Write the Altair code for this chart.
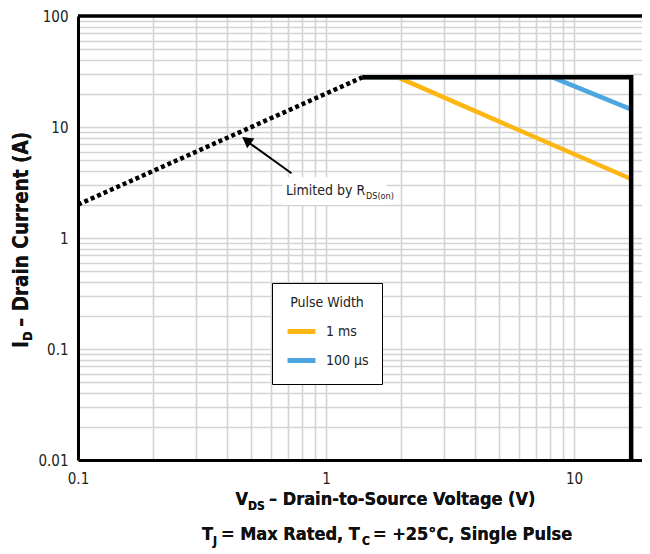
import altair as alt
import pandas as pd

# ---- data ----
rds_v = [0.1, 1.4]
rds_i = [2.0, 28.0]
limit_v = [1.4, 17.0, 17.0]
limit_i = [28.0, 28.0, 0.01]
ms1_v = [1.4, 1.95, 17.0]
ms1_i = [28.0, 28.0, 3.4]
us100_v = [1.4, 8.2, 17.0]
us100_i = [28.0, 28.0, 14.4]
series_names = ["1 ms", "100 µs"]
series_colors = ["#FDB714", "#4DA6DF"]

x_grid = [0.1, 0.2, 0.3, 0.4, 0.5, 0.6, 0.7, 0.8, 0.9,
          1, 2, 3, 4, 5, 6, 7, 8, 9, 10]
y_grid = [0.01, 0.02, 0.03, 0.04, 0.05, 0.06, 0.07, 0.08, 0.09,
          0.1, 0.2, 0.3, 0.4, 0.5, 0.6, 0.7, 0.8, 0.9,
          1, 2, 3, 4, 5, 6, 7, 8, 9,
          10, 20, 30, 40, 50, 60, 70, 80, 90, 100]

FONT = "'DejaVu Sans Condensed', Roboto, sans-serif"
NB = "\u00a0"
W, H = 564, 444

pulse = pd.DataFrame(
    [{"v": v, "i": i, "pw": "1 ms", "o": k} for k, (v, i) in enumerate(zip(ms1_v, ms1_i))]
    + [{"v": v, "i": i, "pw": "100 µs", "o": k} for k, (v, i) in enumerate(zip(us100_v, us100_i))]
)
rds = pd.DataFrame({"v": rds_v, "i": rds_i})
limit = pd.DataFrame({"v": limit_v, "i": limit_i, "o": list(range(len(limit_v)))})

lab_expr = "abs(log(datum.value)/LN10 - round(log(datum.value)/LN10)) < 0.001 ? datum.label : ''"
xs = alt.Scale(type="log", domain=[0.1, 18.8], nice=False)
ys = alt.Scale(type="log", domain=[0.01, 100], nice=False)
xax = alt.Axis(values=x_grid, format="~g", labelExpr=lab_expr, title=None, grid=True,
               ticks=False, labelOverlap=False, labelPadding=11, labelFontSize=15,
               labelFont=FONT, labelColor="#222", domainColor="black", domainWidth=3,
               gridColor="#d3d3d3", gridWidth=1.6, labelFlush=False)
yax = alt.Axis(values=y_grid, format="~g", labelExpr=lab_expr, title=None, grid=True,
               ticks=False, labelOverlap=False, labelPadding=10, labelFontSize=15,
               labelFont=FONT, labelColor="#222", domainColor="black", domainWidth=3,
               gridColor="#d3d3d3", gridWidth=1.6, labelFlush=False)
X = alt.X("v:Q", scale=xs, axis=xax)
Y = alt.Y("i:Q", scale=ys, axis=yax)

legend = alt.Legend(title="Pulse Width", orient="none", legendX=194, legendY=267,
                    fillColor="white", strokeColor="black", padding=13,
                    titleAnchor="middle", titleFont=FONT, titleFontWeight="normal",
                    titleFontSize=14, titleColor="#222", titlePadding=5,
                    labelFont=FONT, labelFontSize=14, labelColor="#222", labelOffset=8,
                    symbolType="stroke", symbolStrokeWidth=5, symbolSize=780,
                    rowPadding=2)

pulse_lines = alt.Chart(pulse).mark_line(strokeWidth=4.5).encode(
    x=X, y=Y, order="o:Q",
    color=alt.Color("pw:N", scale=alt.Scale(domain=series_names, range=series_colors),
                    legend=legend),
)
limit_line = alt.Chart(limit).mark_line(strokeWidth=4.5, color="black").encode(
    x=X, y=Y, order="o:Q")
rds_line = alt.Chart(rds).mark_line(strokeWidth=4.5, color="black",
                                    strokeDash=[4, 3]).encode(x=X, y=Y)

top_rule = alt.Chart(rds).mark_rule(color="black", strokeWidth=3).encode(
    x=alt.value(0), x2=alt.value(W), y=alt.value(0))

# annotation "Limited by R_DS(on)"
box_v = [0.668]; box_v2 = [1.75]; box_i = [3.52]; box_i2 = [1.98]
ann_box = alt.Chart(pd.DataFrame({"v": box_v, "v2": box_v2, "i": box_i, "i2": box_i2})).mark_rect(
    color="white").encode(x=X, x2="v2:Q", y=Y, y2="i2:Q")
ann_txt = pd.DataFrame({"v": [0.69], "i": [2.64]})
t1 = alt.Chart(ann_txt).mark_text(text="Limited by R", font=FONT, fontSize=14, align="left",
                                  baseline="middle", color="#222").encode(x=X, y=Y)
t2 = alt.Chart(ann_txt).mark_text(text="DS(on)", font=FONT, fontSize=9, align="left",
                                  baseline="middle", color="#222", dx=80, dy=5).encode(x=X, y=Y)
arrow_v = [0.726]; arrow_i = [3.83]; arrow_v2 = [0.49]; arrow_i2 = [7.2]
arrow = alt.Chart(pd.DataFrame({"v": arrow_v, "i": arrow_i, "v2": arrow_v2, "i2": arrow_i2})).mark_rule(
    color="black", strokeWidth=2).encode(x=X, y=Y, x2="v2:Q", y2="i2:Q")
head = alt.Chart(pd.DataFrame({"v": [0.478], "i": [7.6]})).mark_point(
    shape="triangle-up", filled=True, color="black", opacity=1, size=150, angle=306).encode(x=X, y=Y)

# axis titles with subscripts
BOLD = dict(font=FONT, fontWeight="bold", color="#111")
def txt(s, x, y, size=18, align="left", dx=0, dy=0, angle=0):
    return alt.Chart(rds).mark_text(text=s, fontSize=size, align=align, baseline="middle",
                                    dx=dx, dy=dy, angle=angle, **BOLD).encode(
        x=alt.value(x), y=alt.value(y))

x0 = 170
xt = [
    txt("V", x0, 484, align="right"),
    txt("DS", x0, 484, size=12, dy=6),
    txt(NB + "– Drain-to-Source Voltage (V)", x0 + 21, 484),
]
x1 = 135
lt = [
    txt("T", x1, 519, align="right"),
    txt("J", x1, 519, size=12, dy=6),
    txt(NB + "= Max Rated, T", x1 + 8, 519),
    txt("C", x1 + 149, 519, size=12, dy=6),
    txt(NB + "= +25°C, Single Pulse", x1 + 160, 519),
]
y0 = 332
yt = [
    txt("I", -56, y0, size=20.5, angle=270),
    txt("D", -56, y0 - 7, size=13, dy=6, angle=270),
    txt(NB + "– Drain Current (A)", -56, y0 - 21, size=20.5, angle=270),
]

chart = alt.layer(
    pulse_lines, limit_line, rds_line, top_rule, ann_box, arrow, head, t1, t2, *xt, *lt, *yt
).properties(
    width=W, height=H, autosize=alt.AutoSizeParams(type="none"),
    padding={"left": 70, "top": 8, "right": 0, "bottom": 90},
).configure_view(stroke=None).configure(background="white")

chart.save("out.html", embed_options={"renderer": "svg", "actions": False})
